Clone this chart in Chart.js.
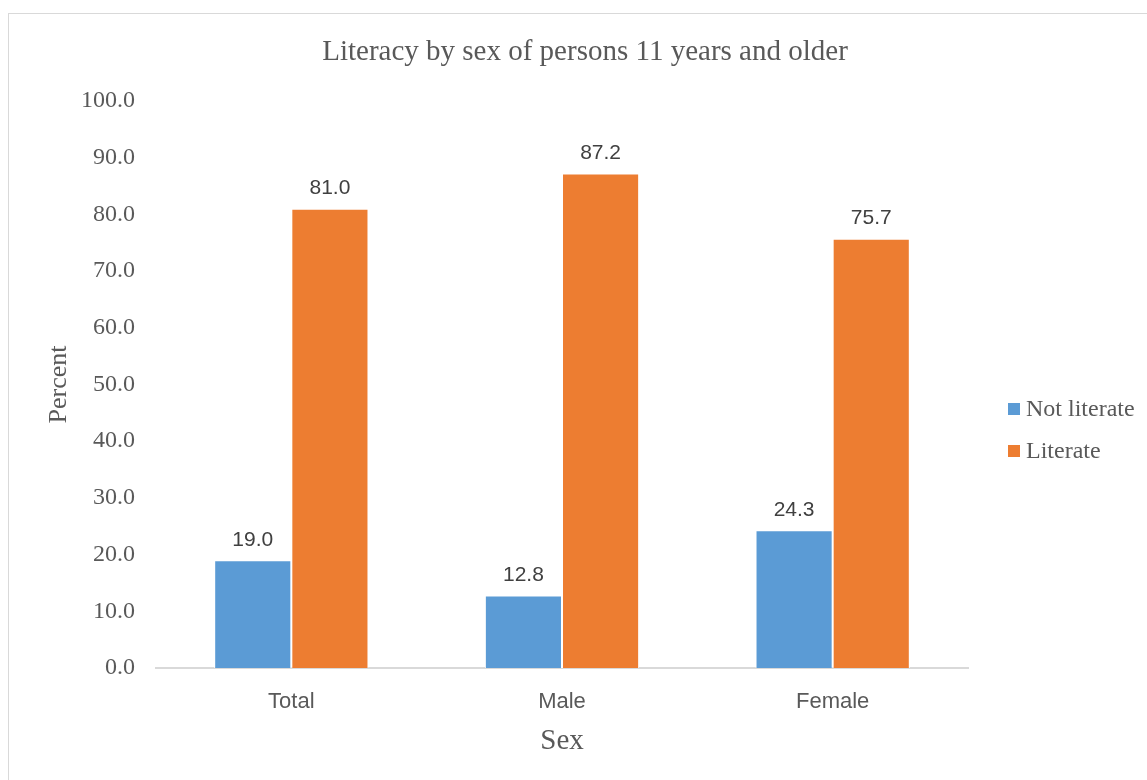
<!DOCTYPE html>
<html><head><meta charset="utf-8">
<script src="https://cdn.jsdelivr.net/npm/chart.js@4.4.1/dist/chart.umd.min.js"></script>
<style>html,body{margin:0;padding:0;background:#fff;}#wrap{width:1147px;height:780px;position:relative;}</style>
</head><body><div id="wrap"><canvas id="c" width="1147" height="780"></canvas></div>
<script>
const categories = ['Total', 'Male', 'Female'];
const notLiterate = [19.0, 12.8, 24.3];
const literate = [81.0, 87.2, 75.7];
const seriesNames = ['Not literate', 'Literate'];
const seriesColors = ['#5B9BD5', '#ED7D31'];
const titleText = 'Literacy by sex of persons 11 years and older';
const yTitle = 'Percent';
const xTitle = 'Sex';

const serif = "'Liberation Serif', 'Times New Roman', serif";
const sans = "'Liberation Sans', Arial, sans-serif";
const txt = '#595959';

const extras = {
  id: 'extras',
  beforeDraw(chart) {
    const ctx = chart.ctx;
    ctx.save();
    ctx.fillStyle = '#fff';
    ctx.fillRect(0, 0, chart.width, chart.height);
    ctx.strokeStyle = '#d9d9d9';
    ctx.lineWidth = 1;
    ctx.strokeRect(8.5, 13.5, 3000, 3000);
    ctx.restore();
  },
  afterDatasetsDraw(chart) {
    const ctx = chart.ctx;
    ctx.save();
    // data labels
    ctx.font = '21px ' + sans;
    ctx.fillStyle = '#404040';
    ctx.textAlign = 'center';
    ctx.textBaseline = 'bottom';
    chart.data.datasets.forEach((ds, i) => {
      const meta = chart.getDatasetMeta(i);
      meta.data.forEach((el, j) => {
        ctx.fillText(ds.data[j].toFixed(1), el.x, el.y - 10);
      });
    });
    // title
    ctx.font = '29px ' + serif;
    ctx.fillStyle = txt;
    ctx.textBaseline = 'middle';
    ctx.fillText(titleText, 585, 52);
    // legend
    ctx.font = '24px ' + serif;
    ctx.textAlign = 'left';
    seriesNames.forEach((n, i) => {
      const y = 409 + i * 42;
      ctx.fillStyle = seriesColors[i];
      ctx.fillRect(1008, y - 6, 12, 12);
      ctx.fillStyle = txt;
      ctx.fillText(n, 1026, y + 1);
    });
    ctx.restore();
  }
};

new Chart(document.getElementById('c'), {
  type: 'bar',
  data: {
    labels: categories,
    datasets: [
      { label: seriesNames[0], data: notLiterate, backgroundColor: seriesColors[0], borderColor: '#ffffff', borderWidth: 1 },
      { label: seriesNames[1], data: literate, backgroundColor: seriesColors[1], borderColor: '#ffffff', borderWidth: 1 }
    ]
  },
  options: {
    responsive: false,
    animation: false,
    devicePixelRatio: 1,
    layout: { padding: { top: 101, right: 179, left: 0, bottom: 0 } },
    plugins: { legend: { display: false }, title: { display: false }, tooltip: { enabled: false } },
    datasets: { bar: { categoryPercentage: 0.57, barPercentage: 1.0 } },
    scales: {
      x: {
        grid: { display: false },
        border: { display: true, color: '#d9d9d9', width: 2 },
        ticks: { color: txt, font: { family: sans, size: 22 }, padding: 13 },
        title: { display: true, text: xTitle, color: txt, font: { family: serif, size: 29 }, padding: { top: 0, bottom: 21 } },
        afterFit(s) { s.height = 112; }
      },
      y: {
        min: 0, max: 100,
        grid: { display: false, drawTicks: false },
        border: { display: false },
        ticks: { stepSize: 10, color: txt, font: { family: serif, size: 24 }, padding: 21, callback: v => Number(v).toFixed(1) },
        title: { display: true, text: yTitle, color: txt, font: { family: serif, size: 26 }, padding: { top: 44, bottom: 0 } },
        afterFit(s) { s.width = 156; }
      }
    }
  },
  plugins: [extras]
});
</script></body></html>
